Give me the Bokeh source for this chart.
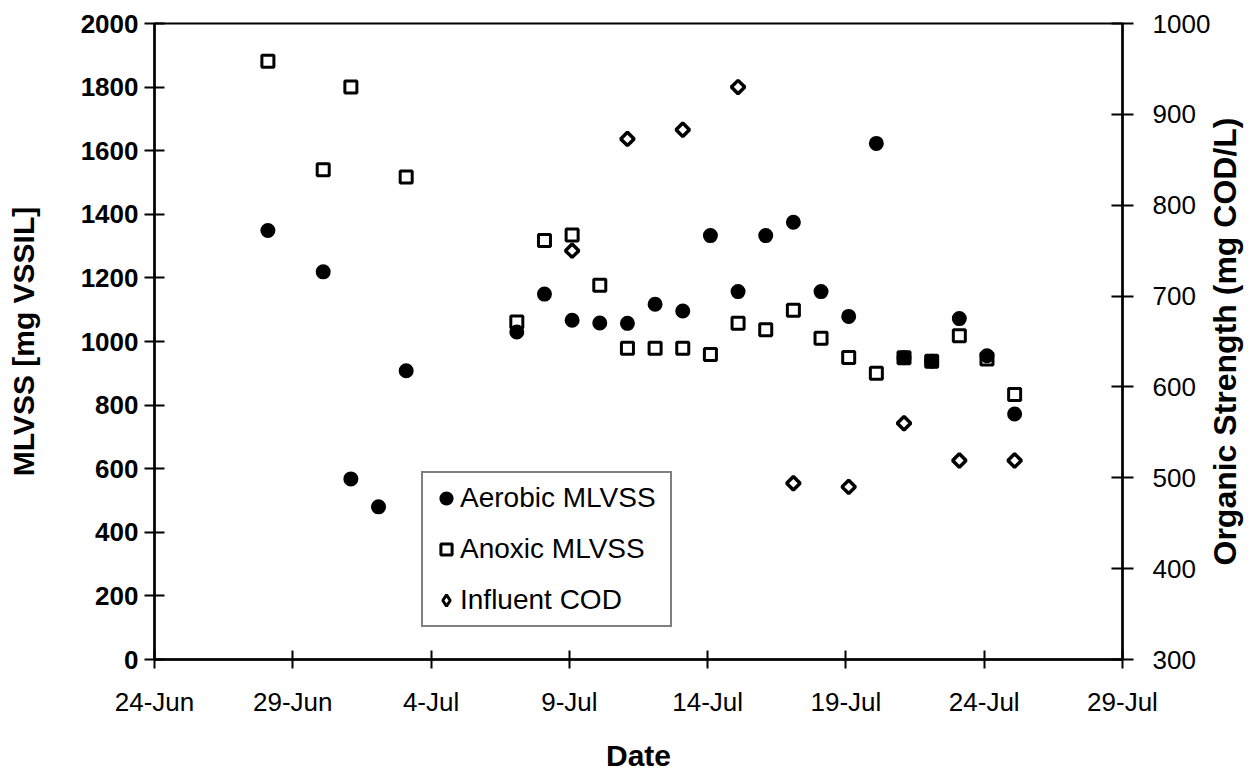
import math
import pandas as pd
from bokeh.plotting import figure
from bokeh.layouts import row
from bokeh.models import (Range1d, LinearAxis, FixedTicker, Legend, LegendItem,
                          ColumnDataSource)
from bokeh.embed import file_html
from bokeh.resources import INLINE

YEAR = 1999

aerobic_dates = ["28-Jun", "30-Jun", "1-Jul", "2-Jul", "3-Jul", "7-Jul", "8-Jul", "9-Jul",
                 "10-Jul", "11-Jul", "12-Jul", "13-Jul", "14-Jul", "15-Jul", "16-Jul", "17-Jul",
                 "18-Jul", "19-Jul", "20-Jul", "21-Jul", "22-Jul", "23-Jul", "24-Jul", "25-Jul"]
aerobic_mlvss = [1349, 1219, 568, 480, 908, 1030, 1149, 1067,
                 1058, 1057, 1117, 1096, 1333, 1157, 1333, 1375,
                 1157, 1079, 1623, 949, 938, 1072, 955, 772]

anoxic_dates = ["28-Jun", "30-Jun", "1-Jul", "3-Jul", "7-Jul", "8-Jul", "9-Jul", "10-Jul",
                "11-Jul", "12-Jul", "13-Jul", "14-Jul", "15-Jul", "16-Jul", "17-Jul", "18-Jul",
                "19-Jul", "20-Jul", "21-Jul", "22-Jul", "23-Jul", "24-Jul", "25-Jul"]
anoxic_mlvss = [1881, 1540, 1800, 1517, 1061, 1318, 1335, 1177,
                979, 979, 979, 959, 1057, 1037, 1098, 1010,
                950, 900, 949, 938, 1018, 945, 833]

cod_dates = ["9-Jul", "11-Jul", "13-Jul", "15-Jul", "17-Jul", "19-Jul", "21-Jul", "23-Jul", "25-Jul"]
influent_cod = [750, 873, 883, 930, 494, 490, 560, 519, 519]

x_tick_labels = ["24-Jun", "29-Jun", "4-Jul", "9-Jul", "14-Jul", "19-Jul", "24-Jul", "29-Jul"]
left_ticks = [0, 200, 400, 600, 800, 1000, 1200, 1400, 1600, 1800, 2000]
right_ticks = [300, 400, 500, 600, 700, 800, 900, 1000]

x_title = "Date"
left_title = "MLVSS [mg VSSIL]"
right_title = "Organic Strength (mg COD/L)"

FONT = "Liberation Sans"
DAY_OFFSET = 0.1  # markers sit slightly right of the day tick in the scan

# geometry (page pixels)
PAGE_W, PAGE_H = 1258, 774
MAIN_W = 1213                      # main chart; a strip to its right holds the right title
STRIP_OVERLAP = 10                 # strip slides this far over the main chart's blank edge
F_LEFT, F_RIGHT, F_TOP, F_BOTTOM = 154, 1124, 23, 663


def to_dt(s):
    return pd.to_datetime(f"{s}-{YEAR}", format="%d-%b-%Y")


start = to_dt(x_tick_labels[0])


def days(lst, off=0.0):
    return [(to_dt(s) - start).days + off for s in lst]


tick_days = days(x_tick_labels)

p = figure(width=MAIN_W, height=PAGE_H,
           x_range=Range1d(tick_days[0], tick_days[-1]),
           y_range=Range1d(left_ticks[0], left_ticks[-1]),
           output_backend="svg", toolbar_location=None,
           min_border_left=F_LEFT, min_border_right=MAIN_W - F_RIGHT,
           min_border_top=F_TOP, min_border_bottom=PAGE_H - F_BOTTOM)
p.extra_y_ranges = {"cod": Range1d(right_ticks[0], right_ticks[-1])}
p.xgrid.visible = False
p.ygrid.visible = False
p.background_fill_color = "white"
p.border_fill_color = "white"
p.outline_line_color = "black"
p.outline_line_width = 2

# bottom axis
xa = p.xaxis[0]
xa.ticker = FixedTicker(ticks=tick_days)
xa.major_label_overrides = {t: lbl for t, lbl in zip(tick_days, x_tick_labels)}
xa.axis_label = x_title
xa.axis_label_text_font = FONT
xa.axis_label_text_font_style = "bold"
xa.axis_label_text_font_size = "30px"
xa.axis_label_standoff = 19
xa.major_label_text_font = FONT
xa.major_label_text_font_size = "26px"
xa.major_label_standoff = 18
xa.major_tick_in = 9
xa.major_tick_out = 9

# left axis
ya = p.yaxis[0]
ya.ticker = FixedTicker(ticks=left_ticks)
ya.axis_label = left_title
ya.axis_label_text_font = FONT
ya.axis_label_text_font_style = "bold"
ya.axis_label_text_font_size = "30px"
ya.axis_label_standoff = 38
ya.major_label_text_font = FONT
ya.major_label_text_font_style = "bold"
ya.major_label_text_font_size = "26px"
ya.major_label_standoff = 6
ya.major_tick_in = 10
ya.major_tick_out = 10

# right axis (ticks only; its title is drawn in the side strip below)
ra = LinearAxis(y_range_name="cod", ticker=FixedTicker(ticks=right_ticks))
ra.major_label_text_font = FONT
ra.major_label_text_font_size = "26px"
ra.major_label_standoff = 19
ra.major_tick_in = 11
ra.major_tick_out = 11
p.add_layout(ra, "right")

for ax in (xa, ya, ra):
    ax.axis_line_color = "black"
    ax.axis_line_width = 2.5
    ax.major_tick_line_color = "black"
    ax.major_tick_line_width = 2
    ax.minor_tick_line_color = None
    ax.major_label_text_color = "black"
    ax.axis_label_text_color = "black"

src_anox = ColumnDataSource(dict(x=days(anoxic_dates, DAY_OFFSET), y=anoxic_mlvss))
src_aer = ColumnDataSource(dict(x=days(aerobic_dates, DAY_OFFSET), y=aerobic_mlvss))
src_cod = ColumnDataSource(dict(x=days(cod_dates, DAY_OFFSET), y=influent_cod))

r_anox = p.scatter("x", "y", source=src_anox, marker="square", size=12,
                   fill_color="white", line_color="black", line_width=3)
r_aer = p.scatter("x", "y", source=src_aer, marker="circle", size=12,
                  fill_color="black", line_color="black", line_width=3)
r_cod = p.scatter("x", "y", source=src_cod, y_range_name="cod", marker="square",
                  angle=math.pi / 4, size=9.5, fill_color="white", line_color="black",
                  line_width=3.5)
# legend swatch for the diamonds (legend swatches ignore marker rotation);
# hidden in the plot itself
r_cod_key = p.scatter("x", "y", source=src_cod, y_range_name="cod", marker="diamond",
                      fill_color="white", line_color="black", line_width=3, visible=False)

legend = Legend(items=[LegendItem(label="Aerobic MLVSS", renderers=[r_aer]),
                       LegendItem(label="Anoxic MLVSS", renderers=[r_anox]),
                       LegendItem(label="Influent COD", renderers=[r_cod_key])],
                location=(267, 32))
legend.glyph_width = 28
legend.glyph_height = 28
legend.label_height = 28
legend.spacing = 19
legend.padding = 9
legend.label_standoff = 0
legend.label_width = 201
legend.label_text_font = FONT
legend.label_text_font_size = "28px"
legend.label_text_color = "black"
legend.border_line_color = "black"
legend.border_line_width = 2
legend.background_fill_color = "white"
legend.background_fill_alpha = 1.0
legend.inactive_fill_alpha = 0.0
p.add_layout(legend)

# transparent strip to the right carrying the right-hand axis title (bottom-to-top)
side = figure(width=PAGE_W - MAIN_W, height=PAGE_H,
              x_range=Range1d(0, 1), y_range=Range1d(right_ticks[0], right_ticks[-1]),
              output_backend="svg", toolbar_location=None, x_axis_location=None,
              min_border_left=0, min_border_right=0,
              min_border_top=F_TOP, min_border_bottom=PAGE_H - F_BOTTOM)
side.margin = (0, 0, 0, -STRIP_OVERLAP)
side.xgrid.visible = False
side.ygrid.visible = False
side.outline_line_color = None
side.background_fill_alpha = 0.0
side.border_fill_alpha = 0.0
sa = side.yaxis[0]
sa.ticker = FixedTicker(ticks=[])
sa.axis_line_color = None
sa.major_tick_line_color = None
sa.minor_tick_line_color = None
sa.major_tick_in = 0
sa.major_tick_out = 0
sa.minor_tick_out = 0
sa.major_label_standoff = 0
sa.axis_label = right_title
sa.axis_label_standoff = 0
sa.axis_label_text_font = FONT
sa.axis_label_text_font_style = "bold"
sa.axis_label_text_font_size = "32px"
sa.axis_label_text_color = "black"

layout = row(p, side)
open("out.html", "w").write(file_html(layout, INLINE))
